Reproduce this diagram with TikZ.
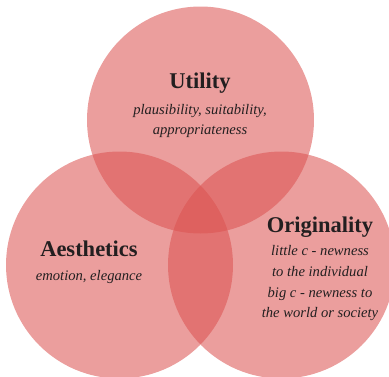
\documentclass[tikz,border=0pt]{standalone}
\usepackage{fontspec}
\setmainfont{Liberation Serif}
\definecolor{vennred}{RGB}{219,82,80}
\definecolor{inkdark}{RGB}{35,31,32}
\begin{document}
\begin{tikzpicture}[x=1bp,y=-1bp,
  venn/.style={fill=vennred,fill opacity=0.56},
  title/.style={anchor=base,inner sep=0pt,text=inkdark,font=\fontsize{22.5bp}{26bp}\selectfont\bfseries},
  sub/.style={anchor=base,inner sep=0pt,text=inkdark,font=\fontsize{14.6bp}{20bp}\selectfont\itshape}]
\useasboundingbox (0,0) rectangle (389,377);
\fill[venn] (200.5,120) circle[radius=113.5];
\fill[venn] (119.5,265) circle[radius=113.5];
\fill[venn] (281.5,265) circle[radius=113.5];
\node[title] (ut) at (200,88) {Utility};
\node[sub] (ut1) at (200,114) {plausibility, suitability,};
\node[sub] (ut2) at (200,134) {appropriateness};
\node[title] (ae) at (89,256) {Aesthetics};
\node[sub] (ae1) at (89,280) {emotion, elegance};
\node[title] (or) at (320,232) {Originality};
\node[sub] (or1) at (320,255) {little c - newness};
\node[sub] (or2) at (320,276) {to the individual};
\node[sub] (or3) at (320,297) {big c - newness to};
\node[sub] (or4) at (320,317) {the world or society};
\end{tikzpicture}
\end{document}
